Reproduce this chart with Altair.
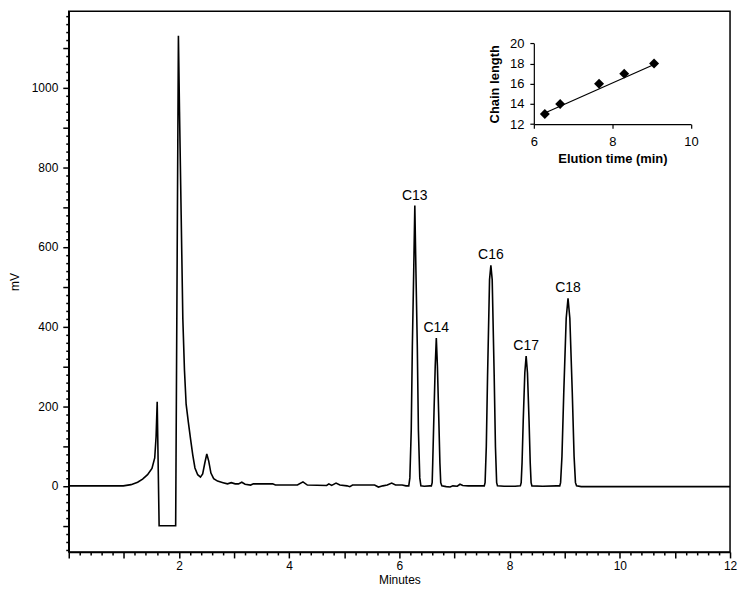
import altair as alt
import pandas as pd

# ---------------- data ----------------
trace_time = [
    0.00, 0.99, 1.13, 1.25, 1.34, 1.43, 1.51, 1.56, 1.585, 1.605, 1.64, 1.94, 1.99,
    2.01, 2.04, 2.07, 2.10, 2.13, 2.17, 2.21, 2.25, 2.29, 2.34, 2.39, 2.43, 2.47, 2.505,
    2.54, 2.58, 2.63, 2.70, 2.80, 2.88, 2.95, 3.02, 3.08, 3.14, 3.20, 3.30, 3.35, 3.70,
    3.75, 4.15, 4.25, 4.33, 4.68, 4.72, 4.77, 4.85, 4.92, 5.05, 5.10, 5.15, 5.55, 5.62,
    5.70, 5.78, 5.86, 5.93, 6.05, 6.12,
    6.17, 6.19, 6.215, 6.235, 6.26, 6.28, 6.30, 6.325, 6.345, 6.37, 6.39,
    6.45, 6.55,
    6.58, 6.595, 6.605, 6.628, 6.65, 6.67, 6.69, 6.712, 6.735, 6.75, 6.77,
    6.85, 6.92, 6.97, 7.05, 7.10, 7.15, 7.25, 7.45,
    7.54, 7.555, 7.577, 7.60, 7.636, 7.66, 7.684, 7.72, 7.743, 7.765, 7.78,
    7.90, 8.10,
    8.195, 8.21, 8.226, 8.247, 8.276, 8.30, 8.324, 8.353, 8.374, 8.39, 8.405,
    8.60, 8.85,
    8.91, 8.925, 8.95, 8.983, 9.027, 9.06, 9.093, 9.137, 9.17, 9.195, 9.215,
    9.30, 12.00,
]
trace_mv = [
    0, 0, 3, 9, 17, 28, 44, 70, 124, 211, -100, -100, 1130,
    940, 680, 420, 290, 205, 160, 118, 78, 45, 28, 22, 30, 58, 80,
    62, 32, 18, 12, 8, 5, 8, 5, 5, 9, 4, 2, 5, 5,
    2, 2, 10, 2, 1, 5, 1, 7, 2, 0, -2, 2, 2, -3,
    0, 2, 7, 2, 2, 0,
    0, 20, 140, 350, 540, 704, 540, 350, 140, 20, 0,
    -1, 0,
    0, 8, 58, 185, 300, 371, 300, 185, 58, 8, 0,
    -2, -3, 0, -1, 4, 1, 0, 0,
    0, 8, 98, 277, 518, 554, 518, 277, 98, 8, 0,
    -1, -1,
    0, 8, 58, 163, 284, 326, 284, 163, 58, 8, 0,
    -1, 0,
    0, 8, 74, 235, 421, 471, 421, 235, 74, 8, 0,
    -2, -2,
]

peak_names = ["C13", "C14", "C16", "C17", "C18"]
peak_times = [6.28, 6.67, 7.66, 8.30, 9.06]
peak_heights = [704, 371, 554, 326, 471]

inset_time = [6.28, 6.67, 7.66, 8.30, 9.06]
inset_chain = [13, 14, 16, 17, 18]
fit_time = [6.28, 9.06]
fit_chain = [13.1, 17.9]

x_ticks = [round(i * 0.2, 1) for i in range(0, 61)]      # minor every 0.2, major every 1
y_ticks = list(range(-160, 1181, 20))                     # minor every 20, major every 100
inset_x_ticks = [6, 8, 10]
inset_y_ticks = [12, 14, 16, 18, 20]

# ---------------- layout ----------------
W, H = 664, 543
X_DOMAIN = [0, 12]
Y_DOMAIN = [-166, 1192]
INSET_X_RANGE = [0.7033 * W, 0.941 * W]
INSET_Y_RANGE = [0.209 * H, 0.0594 * H]
FONT = "Liberation Sans"

trace_df = pd.DataFrame({"t": trace_time, "mv": trace_mv})
peak_df = pd.DataFrame({"name": peak_names, "t": peak_times, "mv": peak_heights})
inset_df = pd.DataFrame({"t": inset_time, "c": inset_chain})
fit_df = pd.DataFrame({"t": fit_time, "c": fit_chain})

xs = alt.Scale(domain=X_DOMAIN, nice=False, zero=False)
ys = alt.Scale(domain=Y_DOMAIN, nice=False, zero=False)
ixs = alt.Scale(domain=[6, 10], range=INSET_X_RANGE, nice=False, zero=False)
iys = alt.Scale(domain=[12, 20], range=INSET_Y_RANGE, nice=False, zero=False)

X_MAJOR_TEST = "abs(datum.value - round(datum.value)) < 0.01"
Y_MAJOR_TEST = "datum.value % 100 === 0"

main_x_axis = alt.Axis(
    orient="bottom", values=x_ticks, tickCount=200,
    labelExpr="abs(datum.value - round(datum.value)) < 0.01 && round(datum.value) % 2 == 0 && datum.value > 0 ? format(round(datum.value), 'd') : ''",
    tickSize={"condition": {"test": X_MAJOR_TEST, "value": 6}, "value": 3},
    labelPadding=3, labelFontSize=12, labelFlush=False, labelOverlap=False,
    title="Minutes", titleFontSize=12, titleFontWeight="normal", titlePadding=3, grid=False,
)
main_y_axis = alt.Axis(
    orient="left", values=y_ticks, tickCount=200, format="d",
    labelExpr="datum.value % 200 === 0 ? datum.label : ''",
    tickSize={"condition": {"test": Y_MAJOR_TEST, "value": 6}, "value": 3},
    labelPadding=5, labelFontSize=12, labelOverlap=False,
    title="mV", titleFontSize=12, titleFontWeight="normal", titlePadding=10, grid=False,
)

inset_x_axis = alt.Axis(
    orient="bottom", offset=INSET_Y_RANGE[0] - H, values=inset_x_ticks, tickCount=50, format="d",
    tickSize=4, labelPadding=7, labelFontSize=13, labelFlush=False, labelOverlap=False,
    title="Elution time (min)", titleFontSize=13, titleFontWeight="bold", titlePadding=4,
    grid=False, domainWidth=1.2, tickWidth=1.2,
)
inset_y_axis = alt.Axis(
    orient="left", offset=-INSET_X_RANGE[0], values=inset_y_ticks, tickCount=50, format="d",
    tickSize=4, labelPadding=6, labelFontSize=13, labelOverlap=False,
    title="Chain length", titleFontSize=13, titleFontWeight="bold", titlePadding=8,
    grid=False, domainWidth=1.2, tickWidth=1.2,
)

trace = alt.Chart(trace_df).mark_line(color="black", strokeWidth=1.6).encode(
    x=alt.X("t:Q", scale=xs, axis=main_x_axis),
    y=alt.Y("mv:Q", scale=ys, axis=main_y_axis),
)
labels = alt.Chart(peak_df).mark_text(
    dy=-10, fontSize=14, font=FONT, color="black", baseline="middle"
).encode(
    x=alt.X("t:Q", scale=xs, axis=None),
    y=alt.Y("mv:Q", scale=ys, axis=None),
    text="name:N",
)
fit = alt.Chart(fit_df).mark_line(color="black", strokeWidth=1.2).encode(
    x=alt.X("t:Q", scale=ixs, axis=inset_x_axis),
    y=alt.Y("c:Q", scale=iys, axis=inset_y_axis),
)
pts = alt.Chart(inset_df).mark_point(shape="diamond", filled=True, size=100, color="black", opacity=1).encode(
    x=alt.X("t:Q", scale=ixs, axis=None),
    y=alt.Y("c:Q", scale=iys, axis=None),
)

chart = (
    alt.layer(trace, labels, fit, pts)
    .resolve_scale(x="independent", y="independent")
    .resolve_axis(x="independent", y="independent")
    .properties(width=W, height=H, padding={"left": 0, "top": 0, "right": 2, "bottom": 0},
                background="white")
    .configure_view(stroke="black", strokeWidth=1.5)
    .configure_axis(domainColor="black", tickColor="black", labelColor="black",
                    titleColor="black", labelFont=FONT, titleFont=FONT,
                    domainWidth=1.5, tickWidth=1.5)
)

chart.save("out.html", embed_options={"renderer": "svg", "actions": False})
